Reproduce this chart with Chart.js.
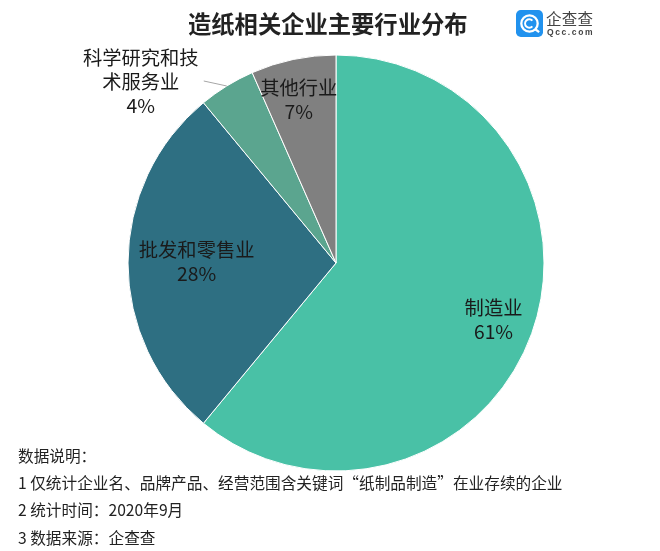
<!DOCTYPE html>
<html>
<head>
<meta charset="utf-8">
<script src="https://cdn.jsdelivr.net/npm/chart.js@4"></script>
<style>
    html, body { margin: 0; padding: 0; background: #fff; }
    body { position: relative; width: 660px; height: 551px; overflow: hidden; font-family: "Noto Sans CJK SC", sans-serif; }
    #wrap { position: absolute; left: 0; top: 0; width: 660px; height: 551px; }
    .title { position: absolute; left: 188px; top: 5px; font-size: 23.3px; line-height: 36px; font-weight: bold; color: #222; white-space: nowrap; }
    .notes { position: absolute; left: 18px; top: 442px; font-size: 15.67px; line-height: 27.2px; color: #222; white-space: nowrap; }
    .logo { position: absolute; left: 516px; top: 10px; }
    .logo-name { position: absolute; left: 546px; top: 7px; font-size: 15.5px; letter-spacing: 0.3px; color: #444; white-space: nowrap; }
    .logo-sub { position: absolute; left: 547px; top: 27px; font-size: 8.5px; letter-spacing: 1.6px; font-weight: bold; font-family: "Liberation Sans", sans-serif; color: #444; }
</style>
</head>
<body>
<div id="wrap"><canvas id="pieChart"></canvas></div>

<div class="title" id="title"></div>

<svg class="logo" width="27" height="27" viewBox="0 0 28 28">
    <rect width="28" height="28" rx="5" fill="#2192ee"></rect>
    <circle cx="14" cy="14" r="8.5" fill="none" stroke="#fff" stroke-width="2.4"></circle>
    <path d="M17 11 A4.4 4.4 0 1 0 17 17" fill="none" stroke="#fff" stroke-width="2"></path>
    <path d="M20 20 L24 23" stroke="#fff" stroke-width="2.4"></path>
</svg>
<div class="logo-name">企查查</div>
<div class="logo-sub">Qcc.com</div>

<div class="notes" id="notes"></div>

<script>
const chartTitle = '造纸相关企业主要行业分布';
const categories = ['制造业', '批发和零售业', '科学研究和技术服务业', '其他行业'];
const shares = [61, 28, 4.4, 6.6];
const labelLines = [['制造业'], ['批发和零售业'], ['科学研究和技', '术服务业'], ['其他行业']];
const sliceColors = ['#49c1a6', '#2e6f82', '#5ba58f', '#808080'];
const footnotes = [
    '数据说明：',
    '1 仅统计企业名、品牌产品、经营范围含关键词“纸制品制造”在业存续的企业',
    '2 统计时间：2020年9月',
    '3 数据来源：企查查',
];

document.getElementById('title').textContent = chartTitle;
document.getElementById('notes').innerHTML = footnotes.join('<br>');

// where each label sits: fraction of the radius along the slice middle, then a nudge
const labelSpots = [
    { along: 0.81, dx: -1, dy: 0 },
    { along: 0.67, dx: 0, dy: -1 },
    { along: 1, dx: -86, dy: -4, leader: { dx: -23, dy: -5 } },
    { along: 0.8, dx: -3, dy: 0 },
];

const sliceLabels = {
    id: 'sliceLabels',
    afterDatasetsDraw(chart) {
        const ctx = chart.ctx;
        const arcs = chart.getDatasetMeta(0).data;
        ctx.save();
        ctx.font = '19.3px "Noto Sans CJK SC"';
        ctx.fillStyle = '#1a1a1a';
        ctx.textAlign = 'center';
        ctx.textBaseline = 'middle';
        arcs.forEach((arc, i) => {
            const spot = labelSpots[i];
            const mid = (arc.startAngle + arc.endAngle) / 2;
            const edgeX = arc.x + Math.cos(mid) * arc.outerRadius * spot.along;
            const edgeY = arc.y + Math.sin(mid) * arc.outerRadius * spot.along;
            if (spot.leader) {
                ctx.beginPath();
                ctx.moveTo(edgeX, edgeY);
                ctx.lineTo(edgeX + spot.leader.dx, edgeY + spot.leader.dy);
                ctx.strokeStyle = '#a6a6a6';
                ctx.lineWidth = 1;
                ctx.stroke();
            }
            const lines = labelLines[i].concat(Math.round(shares[i]) + '%');
            const cx = edgeX + spot.dx;
            const cy = edgeY + spot.dy;
            lines.forEach((line, n) => {
                ctx.fillText(line, cx, cy + (n - (lines.length - 1) / 2) * 24);
            });
        });
        ctx.restore();
    },
};

new Chart(document.getElementById('pieChart'), {
    type: 'pie',
    data: {
        labels: categories,
        datasets: [
            {
                data: shares,
                backgroundColor: sliceColors,
                borderColor: '#ffffff',
                borderWidth: 1,
            },
        ],
    },
    options: {
        responsive: true,
        maintainAspectRatio: false,
        animation: false,
        layout: { padding: { left: 127.5, right: 115.5, top: 54.5, bottom: 79.5 } },
        plugins: {
            legend: { display: false },
            tooltip: { enabled: false },
        },
    },
    plugins: [sliceLabels],
});
</script>
</body>
</html>
